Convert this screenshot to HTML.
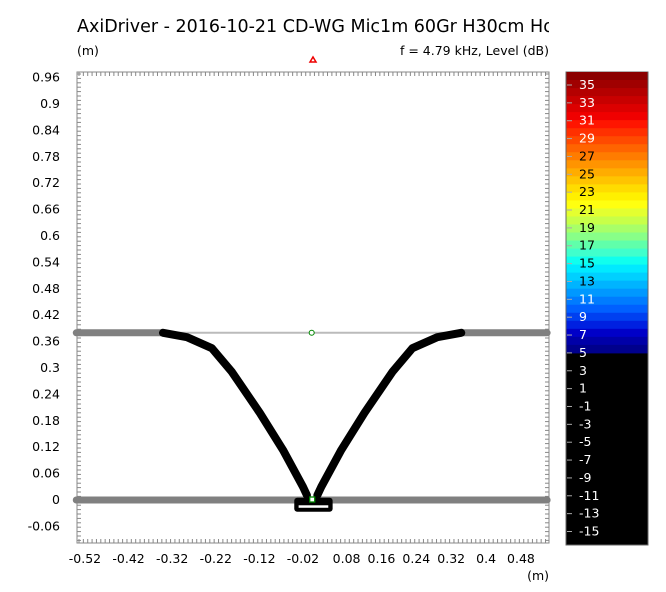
<!DOCTYPE html>
<html><head><meta charset="utf-8"><style>
body{margin:0;background:#fff;width:666px;height:588px;overflow:hidden;font-family:"DejaVu Sans","Liberation Sans",sans-serif}
svg text{font-family:"DejaVu Sans","Liberation Sans",sans-serif}
</style></head><body>
<svg id="c" width="666" height="588" xmlns="http://www.w3.org/2000/svg">
<defs><clipPath id="tc"><rect x="0" y="0" width="549" height="60"/></clipPath></defs>
<text x="77" y="32" font-size="17.5" clip-path="url(#tc)">AxiDriver - 2016-10-21 CD-WG Mic1m 60Gr H30cm Hor</text>
<text x="77" y="55" font-size="12.5">(m)</text>
<text x="549" y="55" font-size="12.5" text-anchor="end">f = 4.79 kHz, Level  (dB)</text>
<text x="549" y="580" font-size="12.5" text-anchor="end">(m)</text>
<polygon points="310,62 313,57 316,62" fill="none" stroke="#e00" stroke-width="1.5"/>
<rect x="77" y="72" width="472" height="471" fill="#fff" stroke="#888"/>
<g id="ticks"></g><g id="marks"></g><g id="cbar"></g>
</svg>
<script>
const xTicks=[-0.52,-0.42,-0.32,-0.22,-0.12,-0.02,0.08,0.16,0.24,0.32,0.4,0.48];
const yTicks=[0.96,0.9,0.84,0.78,0.72,0.66,0.6,0.54,0.48,0.42,0.36,0.3,0.24,0.18,0.12,0.06,0,-0.06];
const baffleY=[0.38,0];
const profileX=[-0.341,-0.286,-0.229,-0.183,-0.119,-0.066,-0.020,-0.011];
const profileY=[0.380,0.370,0.345,0.291,0.198,0.114,0.030,0.011];
const cbLabels=[35,33,31,29,27,25,23,21,19,17,15,13,11,9,7,5,3,1,-1,-3,-5,-7,-9,-11,-13,-15];
const cbColors=["#8b0000","#a00000","#b40000","#c80000","#dc0000","#f00000","#ff1500","#ff3000","#ff4a00","#ff6400","#ff7c00","#ff9400","#ffac00","#ffc400","#ffdc00","#fff000","#ffff10","#e4ff30","#c8ff48","#a8ff68","#88ff88","#60ffaa","#40ffcc","#10ffee","#00eaff","#00d0ff","#00b4ff","#0098ff","#007cff","#0060ff","#0040f0","#0020e0","#0000c8","#0000a8","#00008c"];
const NS="http://www.w3.org/2000/svg";
const X=v=>311.7+v*436, Y=v=>500-v*440;
function mk(p,t,a){const e=document.createElementNS(NS,t);for(const k in a)e.setAttribute(k,a[k]);p.appendChild(e);return e;}
const tk=document.getElementById('ticks'),mg=document.getElementById('marks'),cb=document.getElementById('cbar');
for(let x=79;x<549;x+=4.36){mk(tk,'line',{x1:x,x2:x,y1:72,y2:76,stroke:'#888'});mk(tk,'line',{x1:x,x2:x,y1:539,y2:543,stroke:'#888'});}
for(let y=74;y<543;y+=4.4){mk(tk,'line',{x1:77,x2:81,y1:y,y2:y,stroke:'#888'});mk(tk,'line',{x1:545,x2:549,y1:y,y2:y,stroke:'#888'});}
xTicks.forEach(v=>{const t=mk(tk,'text',{x:X(v),y:563,'font-size':12.5,'text-anchor':'middle'});t.textContent=v;

});
yTicks.forEach(v=>{const t=mk(tk,'text',{x:60,y:Y(v)+4,'font-size':12.5,'text-anchor':'end'});t.textContent=v;

});
let l=mk(mg,'line',{x1:X(profileX[0]),x2:X(-profileX[0]+0.002),y1:Y(baffleY[0]),y2:Y(baffleY[0]),stroke:'#bbb','stroke-width':2});


[[-0.54,profileX[0],baffleY[0]],[-profileX[0]+0.002,0.54,baffleY[0]],[-0.54,0.54,baffleY[1]]].forEach(b=>{
 const e=mk(mg,'line',{x1:X(b[0]),x2:X(b[1]),y1:Y(b[2]),y2:Y(b[2]),stroke:'#808080','stroke-width':7,'stroke-linecap':'round'});
 
 });
let pl=profileX.map((x,i)=>X(x)+','+Y(profileY[i])).join(' ');
let pr=profileX.map((x,i)=>X(-x+0.002)+','+Y(profileY[i])).join(' ');
let p1=mk(mg,'polyline',{points:pl,fill:'none',stroke:'#000','stroke-width':8,'stroke-linecap':'round','stroke-linejoin':'round'});


let p2=mk(mg,'polyline',{points:pr,fill:'none',stroke:'#000','stroke-width':8,'stroke-linecap':'round','stroke-linejoin':'round'});


let dr=mk(mg,'rect',{x:X(-0.04),y:Y(0.005),width:X(0.048)-X(-0.04),height:14,rx:3,fill:'#000'});


mk(mg,'rect',{x:X(-0.03),y:Y(-0.012),width:X(0.038)-X(-0.03),height:2.5,fill:'#fff'});
let src=mk(mg,'rect',{x:X(0)-2,y:Y(0)-3,width:5,height:5,fill:'#fff',stroke:'#080','stroke-width':1.3});


let ap=mk(mg,'circle',{cx:X(0),cy:Y(baffleY[0]),r:2.5,fill:'#fff',stroke:'#080'});


const cbTop=72,pxdB=8.93,y35=85;
mk(cb,'rect',{x:566,y:72,width:82,height:473,fill:'#000',stroke:'#666'});
const bh=(y35+(35-5)*pxdB-cbTop)/cbColors.length;
cbColors.forEach((c,i)=>{const r=mk(cb,'rect',{x:566.5,y:cbTop+i*bh,width:81,height:bh+0.5,fill:c});

});
cbLabels.forEach(v=>{const y=y35+(35-v)*pxdB;
 mk(cb,'line',{x1:567,x2:572,y1:y,y2:y,stroke:'#aaa'});
 const t=mk(cb,'text',{x:579,y:y+4,'font-size':12.5,fill:(v<=27&&v>=13)?'#000':'#fff'});t.textContent=v;
 
 });
</script>
</body></html>
